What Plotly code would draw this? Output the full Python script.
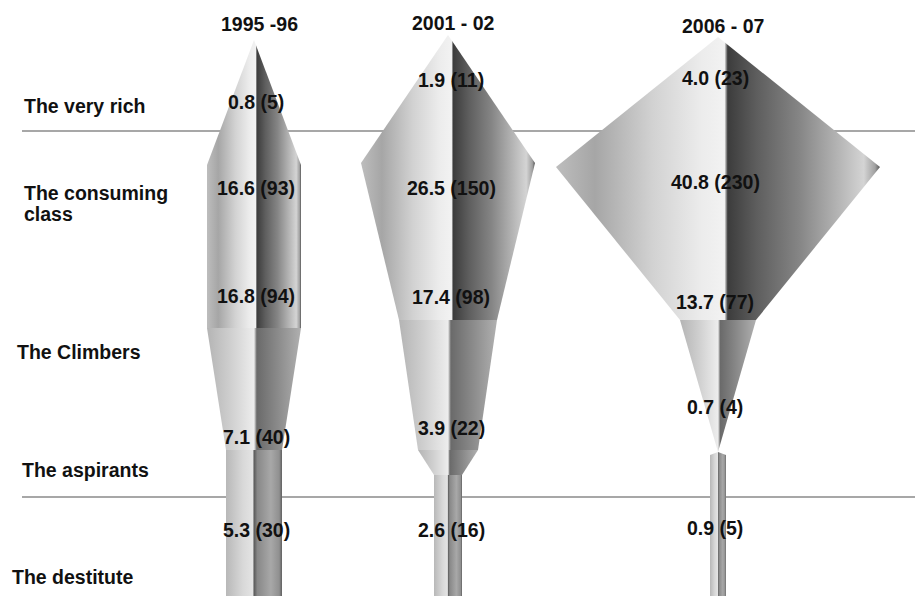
import plotly.graph_objects as go

# ---- data ----
classes = ["The very rich", "The consuming", "The Climbers", "The aspirants", "The destitute"]
years = ["1995 -96", "2001 - 02", "2006 - 07"]

share_9596 = [0.8, 16.6, 16.8, 7.1, 5.3]
hh_9596 = [5, 93, 94, 40, 30]
share_0102 = [1.9, 26.5, 17.4, 3.9, 2.6]
hh_0102 = [11, 150, 98, 22, 16]
share_0607 = [4.0, 40.8, 13.7, 0.7, 0.9]
hh_0607 = [23, 230, 77, 4, 5]

# kite outlines: boundary levels and half-widths (as drawn)
edge_y_9596 = [40, 165, 328, 450, 610]
edge_w_9596 = [0, 47, 47, 28, 28]
edge_y_0102 = [35, 163, 320, 450, 475, 610]
edge_w_0102 = [0, 87, 49, 30, 14, 14]
edge_y_0607 = [37, 167, 320, 452, 455, 610]
edge_w_0607 = [0, 162, 38, 0, 8, 8]

# ---- layout / styling ----
W, H = 923, 596
PAD = 8  # default page margin around the plot div
FONT = "Liberation Sans, Arial, sans-serif"
INK = "#111111"
FS = 19.5

SCALES = {
    "body": [[0, "#bdbdbd"], [0.12, "#a6a6a6"], [0.3, "#d2d2d2"], [0.45, "#ececec"],
             [0.52, "#f2f2f2"], [0.53, "#3c3c3c"], [0.62, "#5e5e5e"], [0.75, "#858585"],
             [0.88, "#b8b8b8"], [0.95, "#d4d4d4"], [0.985, "#a0a0a0"], [1, "#555555"]],
    "lower": [[0, "#b4b4b4"], [0.25, "#cfcfcf"], [0.5, "#ededed"], [0.53, "#6a6a6a"],
              [0.75, "#8a8a8a"], [1, "#b0b0b0"]],
    "stem": [[0, "#b8b8b8"], [0.3, "#d8d8d8"], [0.48, "#e4e4e4"], [0.5, "#5a5a5a"],
             [0.56, "#888888"], [0.8, "#a8a8a8"], [0.95, "#909090"], [1, "#606060"]],
}

kites = [
    dict(year=years[0], cx=254, ys=edge_y_9596, ws=edge_w_9596,
         styles=["body", "body", "lower", "stem"],
         shares=share_9596, hh=hh_9596, lx=256, ly=[102, 188, 296, 437, 530], ty=24),
    dict(year=years[1], cx=448, ys=edge_y_0102, ws=edge_w_0102,
         styles=["body", "body", "lower", "lower", "stem"],
         shares=share_0102, hh=hh_0102, lx=451, ly=[80, 188, 297, 428, 530], ty=23),
    dict(year=years[2], cx=718, ys=edge_y_0607, ws=edge_w_0607,
         styles=["body", "body", "lower", "stem", "stem"],
         shares=share_0607, hh=hh_0607, lx=715, ly=[78, 182, 302, 407, 528], ty=26),
]

fig = go.Figure()

for k in kites:
    c = k["cx"]
    for i, style in enumerate(k["styles"]):
        y0, y1 = k["ys"][i], k["ys"][i + 1]
        w0, w1 = k["ws"][i], k["ws"][i + 1]
        fig.add_trace(go.Scatter(
            x=[c - w0, c + w0, c + w1, c - w1, c - w0],
            y=[y0, y0, y1, y1, y0],
            mode="lines",
            fill="toself",
            fillgradient=dict(type="horizontal", colorscale=SCALES[style]),
            line=dict(width=0, color="rgba(0,0,0,0)"),
            hoverinfo="skip",
            showlegend=False,
        ))

annotations = []
for k in kites:
    annotations.append(dict(x=k["cx"] + 5, y=k["ty"], text=f"<b>{k['year']}</b>",
                            showarrow=False, font=dict(size=FS, color=INK, family=FONT)))
    for s, h, y in zip(k["shares"], k["hh"], k["ly"]):
        annotations.append(dict(x=k["lx"], y=y, text=f"<b>{s:.1f} ({h})</b>",
                                showarrow=False, font=dict(size=FS, color=INK, family=FONT)))

row_label_pos = [(22, 106), (22, 193), (15, 352), (20, 470), (10, 577)]
for name, (x, y) in zip(classes, row_label_pos):
    annotations.append(dict(x=x, y=y, text=f"<b>{name}</b>", xanchor="left",
                            showarrow=False, font=dict(size=FS, color=INK, family=FONT)))
annotations.append(dict(x=22, y=214, text="<b>class</b>", xanchor="left",
                        showarrow=False, font=dict(size=FS, color=INK, family=FONT)))

shapes = [dict(type="line", x0=22, x1=W + 20, y0=y, y1=y, layer="below",
               line=dict(color="#8a8a8a", width=1.5)) for y in (131, 497)]

fig.update_layout(
    width=W, height=H,
    margin=dict(l=0, r=0, t=0, b=0),
    paper_bgcolor="white", plot_bgcolor="white",
    xaxis=dict(range=[PAD, W + PAD], visible=False, fixedrange=True),
    yaxis=dict(range=[H + PAD, PAD], visible=False, fixedrange=True),
    annotations=annotations,
    shapes=shapes,
    showlegend=False,
)

fig.write_html("out.html")
